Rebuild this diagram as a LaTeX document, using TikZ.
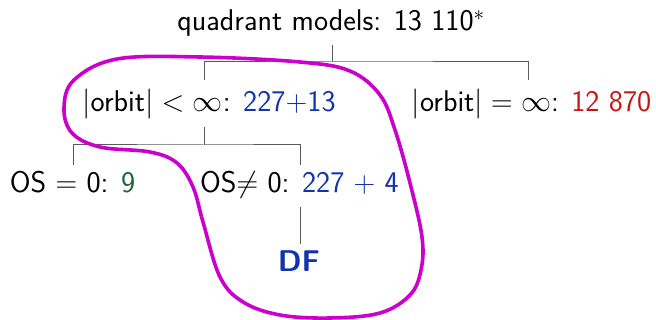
\RequirePackage{fix-cm}
\documentclass[tikz,border=0pt]{standalone}
\usepackage{fontspec}
\usetikzlibrary{calc}
\definecolor{tblue}{RGB}{18,52,170}
\definecolor{tgreen}{RGB}{30,100,60}
\definecolor{tred}{RGB}{200,20,20}
\definecolor{tmag}{RGB}{204,0,204}
\definecolor{tline}{RGB}{90,90,90}
\begin{document}
\begin{tikzpicture}[x=1pt,y=-1pt,
  lbl/.style={inner sep=0pt,anchor=base,font=\sffamily\fontsize{30}{34}\selectfont},
  tree/.style={draw=tline,line width=1pt},
  loop/.style={draw=tmag,line width=3.6pt}]
\useasboundingbox (0,0) rectangle (656,320);
\node[lbl] (top) at (331,31) {quadrant models: 13 110$^*$};
\node[lbl] (fin) at (209,112) {$|$orbit$|<\infty$: \textcolor{tblue}{227+13}};
\node[lbl] (inf) at (531.5,112) {$|$orbit$|=\infty$: \textcolor{tred}{12 870}};
\node[lbl] (os0) at (72.5,193) {OS $=$ 0: \textcolor{tgreen}{9}};
\node[lbl] (osn) at (299.5,193) {OS$\neq$ 0: \textcolor{tblue}{227 $+$ 4}};
\node[lbl,font=\sffamily\bfseries\fontsize{30}{34}\selectfont,text=tblue] (df) at (299,272) {DF};
% junctions
\coordinate (s1) at (332,45);
\coordinate (j1) at (332,62);
\coordinate (e1l) at (204,80);
\coordinate (e1r) at (528,80);
\coordinate (s2) at (204,127);
\coordinate (j2) at (204,145);
\coordinate (e2l) at (73,165);
\coordinate (e2r) at (300,165);
\coordinate (s3) at (300,207);
\coordinate (e3) at (300,244);
\draw[tree] (s1) -- (j1);
\draw[tree] (e1l) |- (j1) -| (e1r);
\draw[tree] (s2) -- (j2);
\draw[tree] (e2l) |- (j2) -| (e2r);
\draw[tree] (s3) -- (e3);
% magenta loop
\draw[loop] plot[smooth cycle,tension=0.6] coordinates {
 (64,108) (74,80) (117,59) (200,57) (300,62) (350,71) (380,95) (395,130)
 (410,183) (422,237) (421,270) (410,295) (380,313) (330,318) (280,315)
 (243,302) (220,277) (203,222) (193,187) (177,163) (150,152) (100,147) (72,133)};
\end{tikzpicture}
\end{document}
